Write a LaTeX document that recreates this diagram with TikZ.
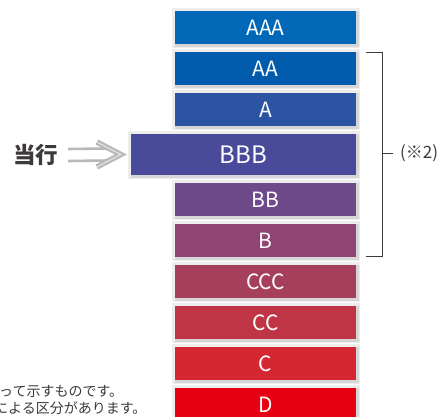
\documentclass[tikz,border=0pt]{standalone}
\usepackage{fontspec}
\setmainfont{Noto Sans CJK JP}
\usetikzlibrary{calc}
\definecolor{cAAA}{HTML}{0068B7}
\definecolor{cAA}{HTML}{005BAC}
\definecolor{cA}{HTML}{2B54A2}
\definecolor{cBBB}{HTML}{4A4A9B}
\definecolor{cBB}{HTML}{6E4A8B}
\definecolor{cB}{HTML}{8E4474}
\definecolor{cCCC}{HTML}{A63F5C}
\definecolor{cCC}{HTML}{C03545}
\definecolor{cC}{HTML}{D42731}
\definecolor{cD}{HTML}{E60012}
\definecolor{ink}{HTML}{3E3A39}
\definecolor{arrowgray}{HTML}{B8B8B8}
\tikzset{
  rbox/.style={rectangle, minimum width=181pt, minimum height=33pt, inner sep=0pt,
    text=white, font=\fontsize{21}{21}\selectfont, fill=#1,
    preaction={draw=black!7, line width=7pt},
    preaction={draw=black!16, line width=3pt, transform canvas={shift={(1pt,-1.5pt)}}}},
  bigbox/.style={rbox=#1, minimum width=225pt, minimum height=41pt, font=\fontsize{24}{24}\selectfont},
  notetext/.style={inner sep=0pt, text=ink, font=\fontsize{14}{14}\selectfont},
  bracketline/.style={draw=ink, line width=0.9pt},
  hollowarrow/.style={draw=arrowgray, line width=2.6pt},
  chevron/.style={draw=arrowgray, line width=2.1pt, double=arrowgray!45, double distance=1.3pt, line join=miter}
}
\begin{document}
\begin{tikzpicture}[x=1pt,y=-1pt]
\useasboundingbox (0,0) rectangle (439,416);
\fill[white] (0,0) rectangle (439,416);
% rating boxes
\node[rbox=cAAA] (AAA) at (265.5,27.5) {AAA};
\node[rbox=cAA] (AA) at (265.5,68.5) {AA};
\node[rbox=cA] (A) at (265.5,109.5) {A};
\node[bigbox=cBBB] (BBB) at (243.5,154.5) {BBB};
\node[rbox=cBB] (BB) at (265.5,199.5) {BB};
\node[rbox=cB] (B) at (265.5,240.5) {B};
\node[rbox=cCCC] (CCC) at (265.5,281.5) {CCC};
\node[rbox=cCC] (CC) at (265.5,322.5) {CC};
\node[rbox=cC] (C) at (265.5,363.5) {C};
\node[rbox=cD] (D) at (265.5,404.5) {D};
% current bank label and hollow arrow
\node[inner sep=0pt, text=ink, font=\fontsize{22.5}{22.5}\selectfont\bfseries] (tokou) at (35.5,155) {当行};
\coordinate (as) at ($(tokou.east)+(10,0)$);
\coordinate (at) at ($(BBB.west)+(-9,0)$);
\draw[hollowarrow] ($(as)+(0,-6)$) -- ($(at)+(-14,-6)$);
\draw[hollowarrow] ($(as)+(0,6)$) -- ($(at)+(-14,6)$);
\draw[chevron] ($(at)+(-25,-12.5)$) -- ($(at)+(-1,0)$) -- ($(at)+(-25,12.5)$);
% bracket
\node[anchor=west, inner sep=0pt, text=ink, font=\fontsize{17}{17}\selectfont] (note2) at (400,153) {(※2)};
\coordinate (btop) at ($(AA.north east)+(10,1)$);
\coordinate (bbot) at ($(B.south east)+(10,-1)$);
\draw[bracketline] (btop) -- ++(16,0) coordinate (bv) -- (bv |- bbot) -- (bbot);
\draw[bracketline] (bv |- note2.west) -- ++(11,0);
% footnote fragments
\node[notetext, anchor=west] (n1) at (-1,391) {って示すものです。};
\node[notetext, anchor=west] (n2) at (-6,408) {による区分があります。};
\end{tikzpicture}
\end{document}
